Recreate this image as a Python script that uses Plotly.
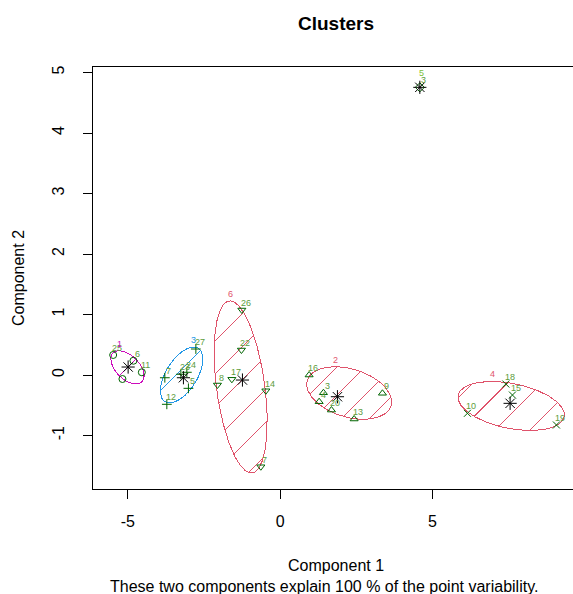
import numpy as np
import plotly.graph_objects as go

# ---------------- data ----------------
pt_label = ["25", "6", "11", "",
            "27", "7", "23", "24", "5", "12",
            "26", "22", "17", "8", "14", "7",
            "16", "3", "4", "20", "9", "13",
            "10", "18", "15", "19",
            "3"]
pt_cluster = [1, 1, 1, 1,
              3, 3, 3, 3, 3, 3,
              6, 6, 6, 6, 6, 6,
              2, 2, 2, 2, 2, 2,
              4, 4, 4, 4,
              5]
pt_x = [-5.484, -4.818, -4.542, -5.179,
        -2.768, -3.787, -3.261, -3.064, -3.012, -3.721,
        -1.258, -1.271, -1.586, -2.059, -0.470, -0.634,
        0.952, 1.422, 1.281, 1.685, 3.360, 2.430,
        6.151, 7.412, 7.629, 9.074,
        4.588]
pt_y = [0.331, 0.236, 0.045, -0.066,
        0.430, -0.045, 0.012, 0.045, -0.220, -0.484,
        1.074, 0.413, -0.071, -0.165, -0.260, -1.516,
        0.000, -0.293, -0.441, -0.579, -0.302, -0.727,
        -0.633, -0.149, -0.331, -0.826,
        4.755]

clus_id = [1, 2, 3, 4, 5, 6]
center_x = [-4.992, 1.882, -3.176, 7.553, 4.588, -1.238]
center_y = [0.132, -0.359, -0.045, -0.468, 4.755, -0.083]

# ellipses: centre and two conjugate half-diameters (data units)
ell_id = [1, 2, 3, 4, 6]
ell_cx = [-5.015, 2.266, -3.235, 7.586, -1.297]
ell_cy = [0.127, -0.298, 0.000, -0.512, -0.198]
ell_ux = [0.473, 1.376, 0.548, 1.741, 0.378]
ell_uy = [-0.238, -0.209, 0.441, -0.177, -1.421]
ell_vx = [-0.274, -0.229, 0.434, -0.146, 0.785]
ell_vy = [-0.138, -0.381, -0.137, -0.365, 0.053]

x_ticks = [-5, 0, 5]
y_ticks = [-1, 0, 1, 2, 3, 4, 5]

title_text = "Clusters"
xlab_text = "Component 1"
ylab_text = "Component 2"
sub_text = "These two components explain 100 % of the point variability."

# ---------------- styling ----------------
W, H = 573, 594
L, R, T, B = 93, 0, 67, 105
PW, PH = W - L - R, H - T - B
XR = [-6.146, 9.618]
YR = [-1.884, 5.091]
FONT = "Liberation Sans, Arial, sans-serif"

symbols = {1: "circle-open", 2: "triangle-up-open", 3: "cross-thin-open",
           4: "x-thin-open", 5: "diamond-open", 6: "triangle-down-open"}
ell_color = {1: "#CD0BBC", 2: "#DF536B", 3: "#2297E6", 4: "#DF536B", 6: "#DF536B"}
# hatch: spacing and phase in screen pixels (measured along x+y)
hatch_spacing = {1: 200, 2: 28, 3: 200, 4: 34.7, 6: 33}
hatch_phase = {1: 0, 2: -10, 3: -5.5, 4: 8, 6: -5.5}
pt_color = "#006400"
lab_color = "#5c9c3c"

sx = PW / (XR[1] - XR[0])
sy = PH / (YR[1] - YR[0])

fig = go.Figure()

# ellipses + hatching
t = np.linspace(0, 2 * np.pi, 240)
for i, cid in enumerate(ell_id):
    cx, cy = ell_cx[i], ell_cy[i]
    ux, uy, vx, vy = ell_ux[i], ell_uy[i], ell_vx[i], ell_vy[i]
    ex = cx + ux * np.cos(t) + vx * np.sin(t)
    ey = cy + uy * np.cos(t) + vy * np.sin(t)
    fig.add_trace(go.Scatter(x=ex.tolist(), y=ey.tolist(), mode="lines",
                             line=dict(color=ell_color[cid], width=1),
                             hoverinfo="skip", showlegend=False))
    # hatch lines at 45 degrees on screen: px + py = const
    A = ux * sx + (-uy * sy)
    Bv = vx * sx + (-vy * sy)
    Rr = float(np.hypot(A, Bv))
    phi = float(np.arctan2(Bv, A))
    sp, ph = hatch_spacing[cid], hatch_phase[cid]
    kmin = int(np.floor((-Rr - ph) / sp))
    kmax = int(np.ceil((Rr - ph) / sp))
    for k in range(kmin, kmax + 1):
        s = ph + k * sp
        if abs(s) >= Rr * 0.995:
            continue
        d = float(np.arccos(s / Rr))
        hx, hy = [], []
        for tt in (phi - d, phi + d):
            hx.append(float(cx + ux * np.cos(tt) + vx * np.sin(tt)))
            hy.append(float(cy + uy * np.cos(tt) + vy * np.sin(tt)))
        fig.add_trace(go.Scatter(x=hx, y=hy, mode="lines",
                                 line=dict(color=ell_color[cid], width=1),
                                 hoverinfo="skip", showlegend=False))

# points
for cid in clus_id:
    xs = [pt_x[j] for j in range(len(pt_x)) if pt_cluster[j] == cid]
    ys = [pt_y[j] for j in range(len(pt_y)) if pt_cluster[j] == cid]
    fig.add_trace(go.Scatter(x=xs, y=ys, mode="markers",
                             marker=dict(symbol=symbols[cid], size=7, color=pt_color,
                                         line=dict(color=pt_color, width=1)),
                             hoverinfo="skip", showlegend=False, cliponaxis=False))

# cluster centres (stars)
fig.add_trace(go.Scatter(x=center_x, y=center_y, mode="markers",
                         marker=dict(symbol="asterisk-open", size=11, color="black",
                                     line=dict(color="black", width=1)),
                         hoverinfo="skip", showlegend=False))

annotations = []
# point labels
for j in range(len(pt_x)):
    if pt_label[j] == "":
        continue
    annotations.append(dict(x=pt_x[j], y=pt_y[j], xref="x", yref="y", text=pt_label[j],
                            showarrow=False, xshift=4, yshift=7,
                            font=dict(family=FONT, size=9, color=lab_color)))
# cluster labels at the top of each ellipse
for i, cid in enumerate(ell_id):
    r = float(np.hypot(ell_uy[i], ell_vy[i]))
    tx = ell_cx[i] + (ell_ux[i] * ell_uy[i] + ell_vx[i] * ell_vy[i]) / r
    ty = ell_cy[i] + r
    annotations.append(dict(x=tx, y=ty, xref="x", yref="y", text=str(cid),
                            showarrow=False, xshift=0, yshift=7,
                            font=dict(family=FONT, size=9, color=ell_color[cid])))
# single-point cluster 5 label
k5 = clus_id.index(5)
annotations.append(dict(x=center_x[k5], y=center_y[k5], xref="x", yref="y", text="5",
                        showarrow=False, xshift=2, yshift=14,
                        font=dict(family=FONT, size=9, color="#7cbf3a")))


def px_to_paper_x(px):
    return (px - L) / PW


def py_to_paper_y(py):
    return (T + PH - py) / PH


annotations += [
    dict(x=px_to_paper_x(336), y=py_to_paper_y(23), xref="paper", yref="paper",
         text="<b>" + title_text + "</b>", showarrow=False, xanchor="center", yanchor="middle",
         font=dict(family=FONT, size=19, color="black")),
    dict(x=px_to_paper_x(336), y=py_to_paper_y(565), xref="paper", yref="paper",
         text=xlab_text, showarrow=False, xanchor="center", yanchor="middle",
         font=dict(family=FONT, size=16, color="black")),
    dict(x=px_to_paper_x(324), y=py_to_paper_y(586), xref="paper", yref="paper",
         text=sub_text, showarrow=False, xanchor="center", yanchor="middle",
         font=dict(family=FONT, size=16, color="black")),
    dict(x=px_to_paper_x(18), y=py_to_paper_y(278), xref="paper", yref="paper",
         text=ylab_text, showarrow=False, xanchor="center", yanchor="middle", textangle=-90,
         font=dict(family=FONT, size=16, color="black")),
]

fig.update_layout(
    width=W, height=H,
    margin=dict(l=L, r=R, t=T, b=B, pad=0),
    paper_bgcolor="white", plot_bgcolor="white",
    showlegend=False,
    hovermode=False,
    annotations=annotations,
    xaxis=dict(range=XR, tickmode="array", tickvals=x_ticks, ticktext=[str(v) for v in x_ticks],
               showgrid=False, zeroline=False, showline=True, mirror=True,
               linecolor="black", linewidth=1, ticks="outside", ticklen=9,
               tickcolor="black", tickwidth=1, ticklabelstandoff=9,
               tickfont=dict(family=FONT, size=16, color="black")),
    yaxis=dict(range=YR, tickmode="array", tickvals=y_ticks, ticktext=[str(v) for v in y_ticks],
               showgrid=False, zeroline=False, showline=True, mirror=False,
               linecolor="black", linewidth=1, ticks="outside", ticklen=9,
               tickcolor="black", tickwidth=1, tickangle=-90, ticklabelstandoff=13,
               tickfont=dict(family=FONT, size=16, color="black")),
)

post = (
    "document.body.style.margin='0';document.body.style.overflow='hidden';"
    "document.querySelectorAll('.scatterlayer path.js-line').forEach(function(p){"
    "p.style.shapeRendering='crispEdges';});"
)
fig.write_html("out.html",
               config={"displayModeBar": False, "staticPlot": True},
               post_script=post)
